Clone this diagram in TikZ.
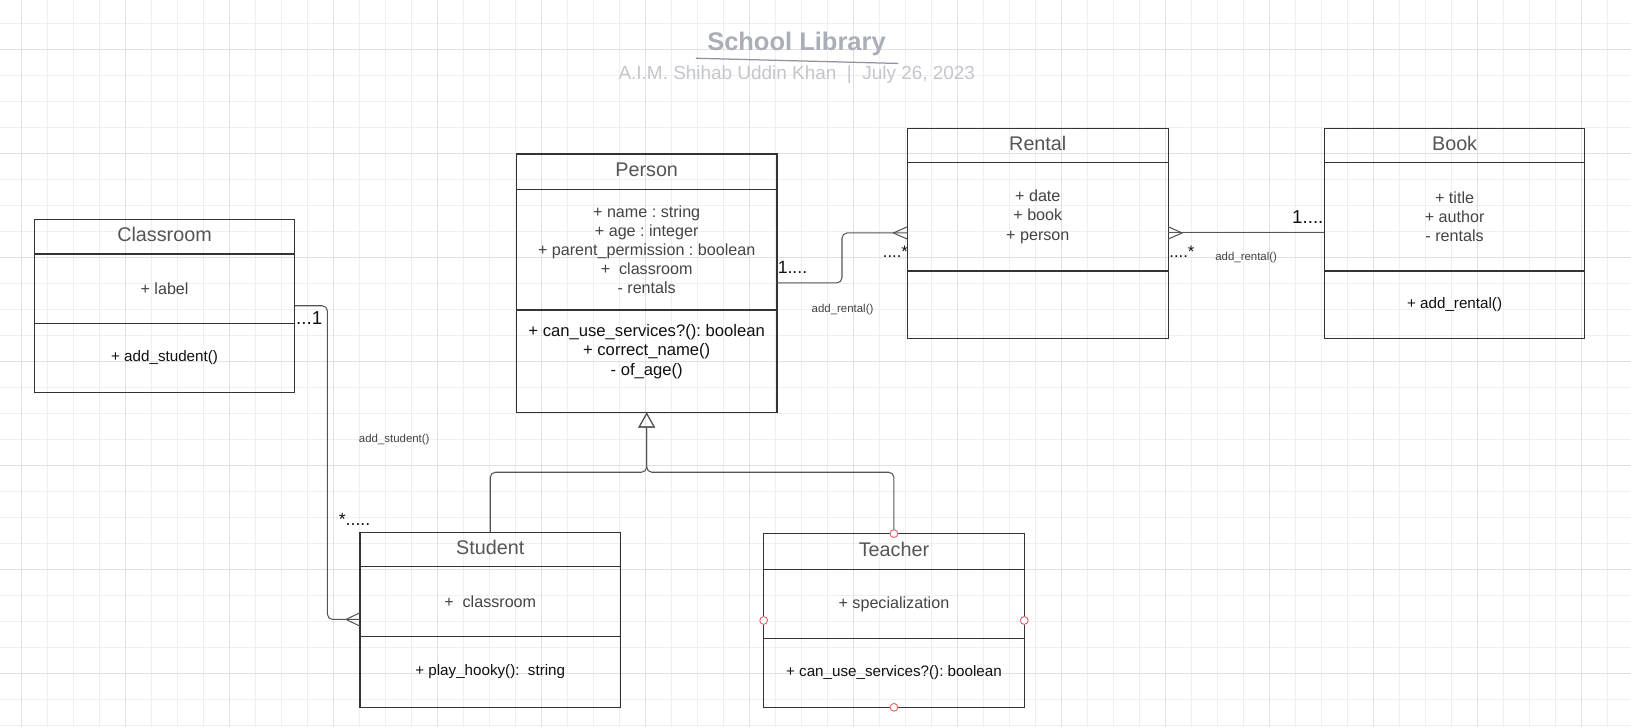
\documentclass[tikz,border=0pt]{standalone}
\usepackage{fontspec}
\setmainfont{Liberation Sans}
\usetikzlibrary{positioning,calc,fit,arrows.meta}
\definecolor{boxline}{HTML}{333333}
\definecolor{connline}{HTML}{555555}
\definecolor{hdrtext}{HTML}{555555}
\definecolor{attrtext}{HTML}{444444}
\definecolor{optext}{HTML}{111111}
\definecolor{gridminor}{HTML}{EFEFEF}
\definecolor{gridmajor}{HTML}{E0E0E0}
\definecolor{titlegray}{HTML}{A9AEB7}
\definecolor{subgray}{HTML}{C3C6CC}
\definecolor{handlered}{HTML}{E5636F}

\begin{document}
\frenchspacing
\begin{tikzpicture}[x=1pt, y=-1pt,
    hdr/.style={rectangle, draw=boxline, line width=1.1pt, minimum width=250.5pt, inner sep=0pt, outer sep=0pt, text=hdrtext, text depth=4pt, font=\fontsize{19}{22}\selectfont},
    attrbox/.style={rectangle, draw=boxline, line width=1.1pt, minimum width=250.5pt, inner sep=0pt, outer sep=0pt, align=center, text=attrtext, font=\fontsize{15.5}{18.4}\selectfont},
    opbox/.style={attrbox, text=optext, font=\fontsize{14.6}{17.5}\selectfont},
    optxt/.style={inner sep=0pt, align=center, text=optext, font=\fontsize{16}{18.7}\selectfont},
    conn/.style={draw=connline, line width=1pt},
    mult/.style={inner sep=0pt, text=optext},
    fname/.style={inner sep=0pt, text=attrtext, font=\fontsize{11}{13}\selectfont},
    handle/.style={circle, draw=handlered, fill=white, line width=0.9pt, minimum size=7.5pt, inner sep=0pt}]

    % Background and grid
    \useasboundingbox (0,0) rectangle (1568,699);
    \fill[white] (0,0) rectangle (1568,699);
    \begin{scope}
        \clip (0,0) rectangle (1568,699);
        \foreach \i in {0,...,63} \draw[gridminor, line width=0.9pt] ({-4.8+25*\i},0) -- ({-4.8+25*\i},699);
        \foreach \j in {0,...,28} \draw[gridminor, line width=0.9pt] (0,{-2.6+25*\j}) -- (1568,{-2.6+25*\j});
        \foreach \i in {0,...,15} \draw[gridmajor, line width=0.9pt] ({20.2+100*\i},0) -- ({20.2+100*\i},699);
        \foreach \j in {0,...,6} \draw[gridmajor, line width=0.9pt] (0,{47.4+100*\j}) -- (1568,{47.4+100*\j});
    \end{scope}

    % Title
    \node[inner sep=0pt, anchor=base, text=titlegray, font=\fontsize{24.5}{28}\selectfont\bfseries] (title) at (765.7,48.7) {School Library};
    \draw[titlegray!85!black, line width=1.2pt] (669,56) -- (863.6,61);
    \node[inner sep=0pt, anchor=base, text=subgray, font=\fontsize{18.2}{21}\selectfont] (subtitle) at (766,76.3) {A.I.M. Shihab Uddin Khan\ \ |\ \ July 26, 2023};

    % Classes
    \node[hdr, minimum height=33.3pt] (classroom) at (158.2,227.5) {Classroom};
    \node[attrbox, below=0pt of classroom, minimum height=67pt] (classroom-attr) {+ label};
    \node[opbox, below=0pt of classroom-attr, minimum height=65.8pt] (classroom-ops) {+ add\_student()};

    \node[hdr, minimum height=34pt] (person) at (621.7,165) {Person};
    \node[attrbox, below=0pt of person, minimum height=116pt] (person-attr) {+ name : string\\ + age : integer\\ + parent\_permission : boolean\\ +\ \ classroom\\ - rentals};
    \node[opbox, below=0pt of person-attr, minimum height=98.5pt] (person-ops) {};
    \node[optxt, below=13.6pt of person-attr] (person-ops-text) {+ can\_use\_services?(): boolean\\ + correct\_name()\\ - of\_age()};

    \node[hdr, minimum height=33pt] (rental) at (997.7,139.9) {Rental};
    \node[attrbox, below=0pt of rental, minimum height=104.1pt] (rental-attr) {+ date\\ + book\\ + person};
    \node[opbox, below=0pt of rental-attr, minimum height=65.1pt] (rental-ops) {};

    \node[hdr, minimum height=33pt] (book) at (1398.4,139.9) {Book};
    \node[attrbox, below=0pt of book, minimum height=104.1pt] (book-attr) {+ title\\ + author\\ - rentals};
    \node[opbox, below=0pt of book-attr, minimum height=65.1pt] (book-ops) {+ add\_rental()};

    \node[hdr, minimum height=33pt] (student) at (471.3,528.5) {Student};
    \node[attrbox, below=0pt of student, minimum height=67pt] (student-attr) {+\ \ classroom};
    \node[opbox, below=0pt of student-attr, minimum height=68pt] (student-ops) {+ play\_hooky():\ \ string};

    \node[hdr, minimum height=34.4pt] (teacher) at (859.4,530.2) {Teacher};
    \node[attrbox, below=0pt of teacher, minimum height=66.3pt] (teacher-attr) {+ specialization};
    \node[opbox, below=0pt of teacher-attr, minimum height=66.3pt] (teacher-ops) {+ can\_use\_services?(): boolean};
    \node[fit=(teacher)(teacher-ops), inner sep=0pt, outer sep=0pt] (teacher-all) {};

    % Connection points
    \coordinate (p-out) at ([yshift=-32pt]person-attr.east);
    \coordinate (r-in) at ([yshift=-15.5pt]rental-attr.west);
    \coordinate (r-out) at ([yshift=-15.5pt]rental-attr.east);
    \coordinate (b-in) at ([yshift=-15.5pt]book-attr.west);
    \coordinate (c-out) at ([yshift=-16.3pt]classroom-attr.east);
    \coordinate (s-in) at ([yshift=-17pt]student-attr.west);
    \coordinate (split) at ($(person-ops.south)+(0,57.5)$);

    % Associations
    \draw[conn, rounded corners=5pt] (p-out) -| ([xshift=-63pt]r-in) -- (r-in);
    \draw[conn] ($(r-in)+(0,-6)$) -- ($(r-in)+(-13.5,0)$) -- ($(r-in)+(0,6)$);
    \draw[conn] (r-out) -- (b-in);
    \draw[conn] ($(r-out)+(0,-6)$) -- ($(r-out)+(13.5,0)$) -- ($(r-out)+(0,6)$);
    \draw[conn, rounded corners=5pt] (c-out) -| ([xshift=-31.3pt]s-in) -- (s-in);
    \draw[conn] ($(s-in)+(0,-6.5)$) -- ($(s-in)+(-13.3,0)$) -- ($(s-in)+(0,6.5)$);

    % Inheritance
    \draw[conn, rounded corners=5pt, -{Triangle[open, length=14.5pt, width=16pt]}] (student.north) |- (split) -- (person-ops.south);
    \draw[conn, rounded corners=5pt, -{Triangle[open, length=14.5pt, width=16pt]}] (teacher.north) |- (split) -- (person-ops.south);

    % Multiplicities and labels
    \node[mult, font=\fontsize{17}{20}\selectfont, anchor=base west] (m-pr-1) at (747.5,262.5) {1....};
    \node[mult, font=\fontsize{16}{19}\selectfont, anchor=base east] (m-pr-n) at (873,248) {....*};
    \node[fname] (f-pr) at (810,298) {add\_rental()};
    \node[mult, font=\fontsize{18}{21}\selectfont, anchor=base east] (m-rb-1) at (1272.5,215) {1....};
    \node[mult, font=\fontsize{16}{19}\selectfont, anchor=base west] (m-rb-n) at (1124,248) {....*};
    \node[fname] (f-rb) at (1198,247.5) {add\_rental()};
    \node[mult, font=\fontsize{18}{21}\selectfont, anchor=base west] (m-cs-1) at (284.5,311.5) {...1};
    \node[mult, font=\fontsize{17}{20}\selectfont, anchor=base west] (m-cs-n) at (325.5,505) {*.....};
    \node[fname] (f-cs) at (379,422.5) {add\_student()};

    % Selection handles
    \foreach \a in {north,south,east,west}
        \node[handle] (h-\a) at (teacher-all.\a) {};
\end{tikzpicture}
\end{document}
